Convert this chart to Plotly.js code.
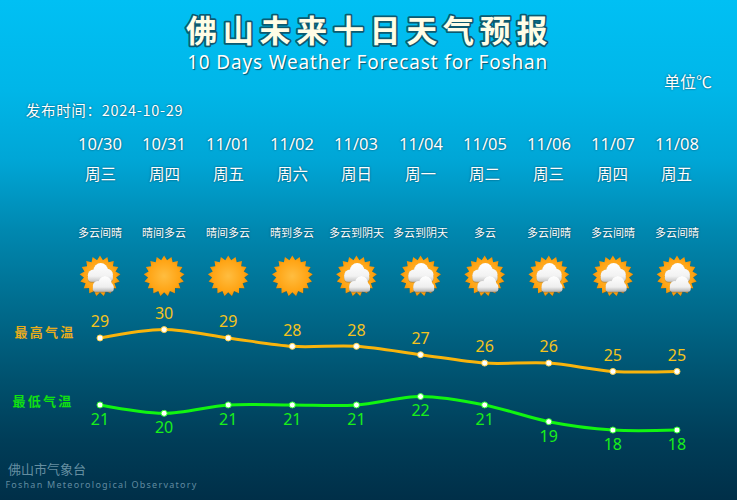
<!DOCTYPE html>
<html><head><meta charset="utf-8">
<script src="https://cdn.plot.ly/plotly-3.0.1.min.js"></script>
<style>
html,body{margin:0;padding:0;width:737px;height:500px;overflow:hidden}
#chart{width:737px;height:500px;background:linear-gradient(180deg,#00c0f4 0,#00b6e8 90px,#00a6d6 160px,#0088b0 230px,#006e90 300px,#00516e 380px,#003d58 440px,#002f48 500px)}
.gtitle{letter-spacing:5.7px;paint-order:stroke;stroke:#0c5a70;stroke-width:3.5px;stroke-linejoin:round}
.annotation[data-index="0"] text{letter-spacing:.85px}
.annotation[data-index="1"] text{letter-spacing:1.25px}
.annotation[data-index="4"] text{letter-spacing:.7px}
.annotation[data-index="5"] text,.annotation[data-index="6"] text{letter-spacing:2.2px}
</style></head><body><div id="chart"></div>
<script>
const dates=['10/30','10/31','11/01','11/02','11/03','11/04','11/05','11/06','11/07','11/08'];
const weekdays=['周三','周四','周五','周六','周日','周一','周二','周三','周四','周五'];
const weather=['多云间晴','晴间多云','晴间多云','晴到多云','多云到阴天','多云到阴天','多云','多云间晴','多云间晴','多云间晴'];
const icons=['cloudy','sun','sun','sun','cloudy','cloudy','cloudy','cloudy','cloudy','cloudy'];
const high=[29,30,29,28,28,27,26,26,25,25];
const low=[21,20,21,21,21,22,21,19,18,18];
const titleText='佛山未来十日天气预报';
const subtitleText='10 Days Weather Forecast for Foshan';
const unitText='单位℃';
const issued='发布时间：2024-10-29';
const highName='最高气温';
const lowName='最低气温';
const orgCn='佛山市气象台';
const orgEn='Foshan Meteorological Observatory';

const idx=dates.map((_,i)=>i);
const W=737,H=500,pxX=64.11,pxY=8.37;
const xr=[-100/pxX,(W-100)/pxX];
const yr=[30-(H-329.6)/pxY,30+329.6/pxY];
const py=p=>1-p/H;
const cjk='"Noto Sans CJK SC","Noto Sans",sans-serif';
const latin='"Noto Sans","Noto Sans CJK SC",sans-serif';
const soft='0 0 2px rgba(0,40,60,.8)';

function sunSvg(cloud){
  let pts=[];const n=17,c=30,ro=28.5,ri=22.5;
  for(let i=0;i<n*2;i++){const a=Math.PI*i/n-Math.PI/2,r=i%2?ri:ro;pts.push((c+r*Math.cos(a)).toFixed(1)+','+(c+r*Math.sin(a)).toFixed(1));}
  let s='<svg xmlns="http://www.w3.org/2000/svg" width="60" height="60" viewBox="0 0 60 60"><defs>'+
  '<radialGradient id="g" cx="30" cy="30" r="29" gradientUnits="userSpaceOnUse"><stop offset="0" stop-color="#ffbd40"/><stop offset=".75" stop-color="#ffa414"/><stop offset="1" stop-color="#f09000"/></radialGradient>'+
  '<linearGradient id="c" gradientUnits="userSpaceOnUse" x1="0" y1="12" x2="0" y2="38"><stop offset="0" stop-color="#fff"/><stop offset=".7" stop-color="#f2f2f2"/><stop offset="1" stop-color="#c4c4c4"/></linearGradient>'+
  '<linearGradient id="d" gradientUnits="userSpaceOnUse" x1="0" y1="30" x2="0" y2="52"><stop offset="0" stop-color="#fff"/><stop offset=".7" stop-color="#efefef"/><stop offset="1" stop-color="#b4b4b4"/></linearGradient>'+
  '<filter id="f" x="-20%" y="-20%" width="140%" height="140%"><feDropShadow dx="0" dy=".8" stdDeviation="1" flood-color="#555" flood-opacity=".6"/></filter></defs>'+
  '<polygon points="'+pts.join(' ')+'" fill="#7a5a20" opacity=".35" transform="translate(.6,1)"/>'+
  '<polygon points="'+pts.join(' ')+'" fill="url(#g)"/>';
  if(cloud){
    s+='<g fill="url(#c)" filter="url(#f)"><circle cx="21" cy="29" r="8"/><circle cx="31" cy="22" r="10"/><circle cx="40" cy="28" r="8"/><rect x="13" y="27" width="35" height="11" rx="5.5"/></g>'+
    '<g fill="url(#d)" filter="url(#f)"><circle cx="27" cy="44" r="7"/><circle cx="37" cy="39" r="9"/><circle cx="43" cy="45" r="6"/><rect x="20" y="43" width="29" height="9" rx="3"/></g>';
  }
  return 'data:image/svg+xml;base64,'+btoa(s+'</svg>');
}
const uri={sun:sunSvg(false),cloudy:sunSvg(true)};
const images=icons.map((k,i)=>({source:uri[k],xref:'x',yref:'paper',x:i,y:py(276),sizex:43/pxX,sizey:43/H,xanchor:'center',yanchor:'middle',layer:'above'}));

const rows=(arr,p,size,family,col,sh)=>arr.map((t,i)=>({x:i,y:py(p),xref:'x',yref:'paper',text:t,showarrow:false,xanchor:'center',yanchor:'middle',font:{size,family,color:col,shadow:sh}}));
const free=(t,x,p,size,family,col,sh,weight)=>({x:x/W,y:py(p),xref:'paper',yref:'paper',text:t,showarrow:false,xanchor:'center',yanchor:'middle',font:{size,family,color:col,shadow:sh,weight}});

const annotations=[
 free(subtitleText,367.5,62,19,latin,'#ffffff','1px 1px 1px rgba(0,60,80,.8)'),
 free(orgEn,101.5,484,9,latin,'rgba(180,215,230,.55)'),
 free(orgCn,47,468,13,cjk,'rgba(190,220,230,.55)'),
 free(unitText,688,81,16,cjk,'#ffffff',soft),
 free(issued,104,110,14.5,cjk,'#ffffff',soft),
 free(highName,45,331,13,cjk,'#e8ac1c',undefined,700),
 free(lowName,43,400,13,cjk,'#11e011',undefined,700),
 ...rows(dates,143,16.5,latin,'#ffffff',soft),
 ...rows(weekdays,173,15.5,cjk,'#ffffff',soft),
 ...rows(weather,232,11,cjk,'#ffffff',soft)
];

const lineTrace=(name,y,col,ring)=>({name,x:idx,y,mode:'lines+markers',cliponaxis:false,
  line:{color:col,width:3,shape:'spline',smoothing:.9},
  marker:{color:'#ffffff',size:6,line:{color:ring,width:1}},hoverinfo:'skip'});
const labelTrace=(y,col,pos,size)=>({x:idx,y,text:y.map(String),mode:'markers+text',textposition:pos,cliponaxis:false,
  textfont:{size:16,family:latin,color:col},marker:{size,opacity:0},hoverinfo:'skip'});
const traces=[
 lineTrace('最高气温',high,'#f9b40c','#ffd04a'),
 lineTrace('最低气温',low,'#11f511','#33ff33'),
 labelTrace(high,'#f5c31c','top center',9),
 labelTrace(low,'#19ef19','bottom center',11)
];

Plotly.newPlot('chart',traces,{
 width:W,height:H,margin:{l:0,r:0,t:0,b:0},
 paper_bgcolor:'rgba(0,0,0,0)',plot_bgcolor:'rgba(0,0,0,0)',showlegend:false,
 title:{text:titleText,x:.5015,xanchor:'center',y:1-31/H,yanchor:'middle',font:{size:31,family:cjk,weight:700,color:'#fffde6'}},
 xaxis:{range:xr,visible:false,fixedrange:true},
 yaxis:{range:yr,visible:false,fixedrange:true},
 images,annotations
},{displayModeBar:false,staticPlot:true});
</script></body></html>
